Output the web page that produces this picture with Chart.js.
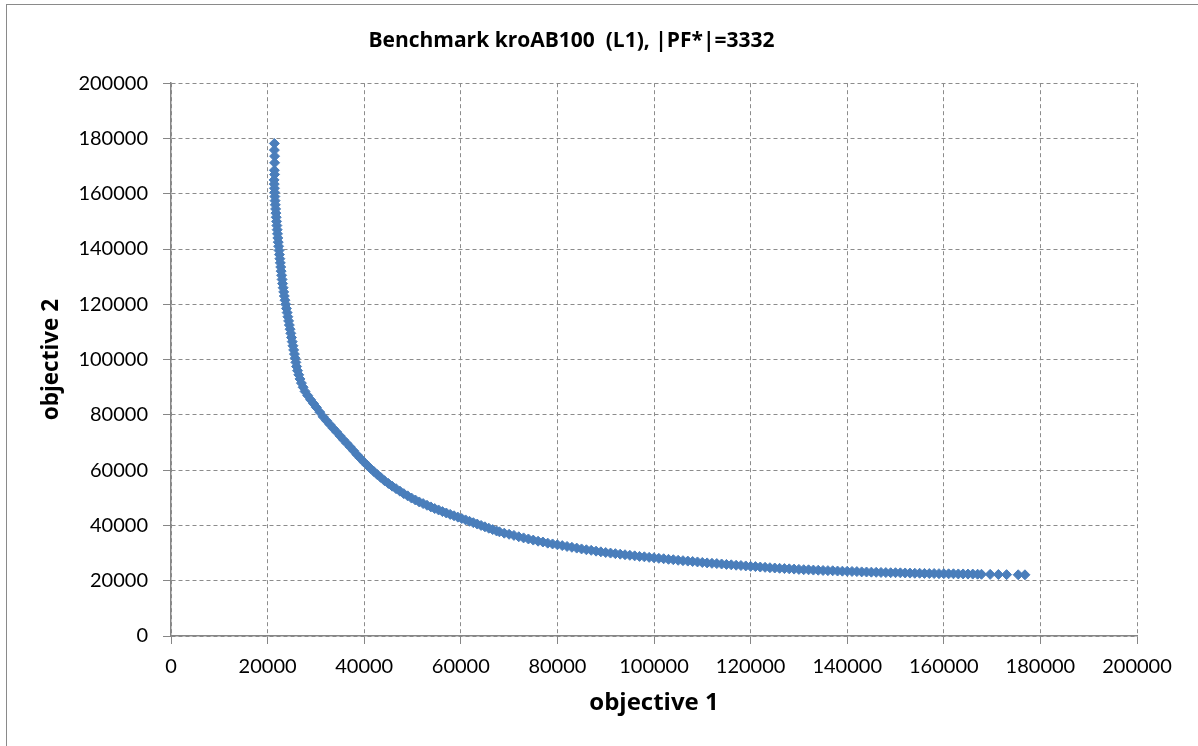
<!DOCTYPE html>
<html>
<head>
<meta charset="utf-8">
<script src="https://cdn.jsdelivr.net/npm/chart.js@4.4.1/dist/chart.umd.min.js"></script>
<style>
html,body{margin:0;padding:0;background:#fff;overflow:hidden}
#wrap{position:relative;width:1198px;height:746px}
#frame{position:absolute;left:6px;top:4px;width:1240px;height:800px;border:1px solid #8a8a8a;box-sizing:border-box}
canvas{position:absolute;left:0;top:0}
</style>
</head>
<body>
<div id="wrap"><div id="frame"></div><canvas id="c" width="1198" height="746"></canvas></div>
<script>
const chartTitle = "Benchmark kroAB100  (L1), |PF*|=3332";
const xAxisTitle = "objective 1";
const yAxisTitle = "objective 2";
const xTickValues = [0,20000,40000,60000,80000,100000,120000,140000,160000,180000,200000];
const yTickValues = [0,20000,40000,60000,80000,100000,120000,140000,160000,180000,200000];

// Pareto front points (objective 1, objective 2)
const objective1 = [
 21400,21400,21450,21450,21400,21450,
 21350,21380,21420,21460,21500,21550,21600,21660,21720,21780,21850,21920,21980,22050,22120,22200,22280,22370,22450,22540,22630,22720,22800,22900,23000,23100,23220,23340,23460,23600,23750,23900,24050,24200,24350,24500,24650,24800,24950,25100,25250,25400,25550,25700,25850,26000,26200,26450,26700,27000,27350,27750,28300,28900,29500,30100,30800,31500,32200,32900,33600,34300,35000,35700,36400,37100,37800,38500,39200,39900,
 40600,41300,42000,42700,43400,44200,45000,45800,46600,47400,48200,49000,49800,50600,51400,52200,53000,53800,54600,55400,56200,57000,57800,58600,59400,60200,61000,61800,62600,63400,64200,65000,65800,66600,67400,
 68000,69000,70000,71000,72000,73000,74000,75000,76000,77000,78000,79000,80000,81000,82000,83000,84000,85000,86000,87000,88000,89000,90000,91000,92000,93000,94000,95000,96000,97000,98000,99000,
 100000,101000,102000,103000,104000,105000,106000,107000,108000,109000,110000,111000,112000,113000,114000,115000,116000,117000,118000,119000,120000,121000,122000,123000,124000,125000,126000,127000,128000,129000,
 130000,131000,132000,133000,134000,135000,136000,137000,138000,139000,140000,141000,142000,143000,144000,145000,146000,147000,148000,149000,150000,151000,152000,153000,154000,155000,156000,157000,158000,159000,
 160000,161000,162000,163000,164000,165000,166000,167000,
 167800,169600,171300,173000,175400,176800
];
const objective2 = [
 178200,175800,173600,171200,168500,167000,
 165000,163500,162000,160500,159000,157500,156000,154500,153000,151500,150000,148500,147000,145500,144000,142500,141000,139500,138000,136500,135000,133500,132000,130500,129000,127500,126000,124500,123000,121500,120000,118500,117000,115500,114000,112500,111000,109500,108000,106500,105000,103500,102000,100500,99000,97500,96000,94500,93000,91500,90000,88500,87000,85500,84100,82700,81000,79300,77900,76500,75100,73800,72400,71000,69700,68400,67000,65600,64300,63000,
 61800,60600,59500,58400,57400,56200,55200,54200,53300,52400,51500,50700,49900,49200,48500,47900,47300,46700,46100,45600,45000,44500,44000,43500,43000,42500,42000,41500,41000,40500,40000,39500,39000,38500,38000,
 37700,37200,36800,36400,35900,35500,35100,34700,34300,34000,33600,33300,33000,32700,32400,32100,31800,31500,31200,31000,30700,30450,30200,30000,29800,29600,29400,29200,29000,28800,28650,28450,
 28300,28100,27950,27750,27600,27400,27250,27100,26950,26800,26600,26450,26300,26200,26050,25900,25750,25600,25500,25350,25200,25100,24950,24850,24700,24600,24500,24400,24300,24200,
 24100,24000,23950,23850,23800,23700,23650,23600,23500,23450,23400,23350,23300,23200,23150,23100,23050,23000,22950,22900,22900,22850,22800,22750,22700,22700,22650,22600,22600,22550,
 22550,22500,22500,22450,22450,22400,22400,22350,
 22330,22300,22250,22200,22150,22140
];

const points = objective1.map((x, i) => ({x: x, y: objective2[i]}));
const FONT = "Lato, 'Open Sans', sans-serif";
const BOLD_FONT = "'Open Sans', Lato, sans-serif";
const GRID = '#8c8c8c';
const AXIS = '#868686';
const plain = v => String(v);

new Chart(document.getElementById('c'), {
  type: 'scatter',
  data: {
    datasets: [{
      data: points,
      pointStyle: 'rectRot',
      pointRadius: 5,
      pointBackgroundColor: '#4a7ebb',
      pointBorderColor: '#4a7ebb',
      pointBorderWidth: 1,
      showLine: false
    }]
  },
  options: {
    responsive: false,
    animation: false,
    devicePixelRatio: 1,
    layout: {padding: {left: 6, right: 61, top: 0, bottom: 0}},
    plugins: {
      legend: {display: false},
      tooltip: {enabled: false},
      title: {
        display: true, text: chartTitle, color: '#000',
        font: {family: BOLD_FONT, size: 21, weight: 'bold', lineHeight: 1.2},
        padding: {top: 28, bottom: 30}
      }
    },
    scales: {
      x: {
        type: 'linear', min: 0, max: 200000,
        afterBuildTicks: s => { s.ticks = xTickValues.map(v => ({value: v})); },
        afterFit: s => { s.height = 110; },
        ticks: {color: '#000', font: {family: FONT, size: 20}, padding: 11, maxRotation: 0, autoSkip: false, callback: plain},
        grid: {color: GRID, lineWidth: 1, tickLength: 8, tickColor: AXIS, tickBorderDash: [], tickWidth: 1},
        border: {display: true, color: AXIS, width: 1.5, dash: [4, 3]},
        title: {display: true, text: xAxisTitle, color: '#000', font: {family: BOLD_FONT, size: 24, weight: 'bold', lineHeight: 1.2}, padding: {top: 0, bottom: 28}}
      },
      y: {
        type: 'linear', min: 0, max: 200000,
        afterBuildTicks: s => { s.ticks = yTickValues.map(v => ({value: v})); },
        afterFit: s => { s.width = 165; },
        ticks: {color: '#000', font: {family: FONT, size: 20}, padding: 15, callback: plain},
        grid: {color: GRID, lineWidth: 1, tickLength: 8, tickColor: AXIS, tickBorderDash: [], tickWidth: 1},
        border: {display: true, color: AXIS, width: 1.5, dash: [4, 3]},
        title: {display: true, text: yAxisTitle, color: '#000', font: {family: BOLD_FONT, size: 22.5, weight: 'bold', lineHeight: 1.2}, padding: {top: 32, bottom: 0}}
      }
    }
  }
});
</script>
</body>
</html>
